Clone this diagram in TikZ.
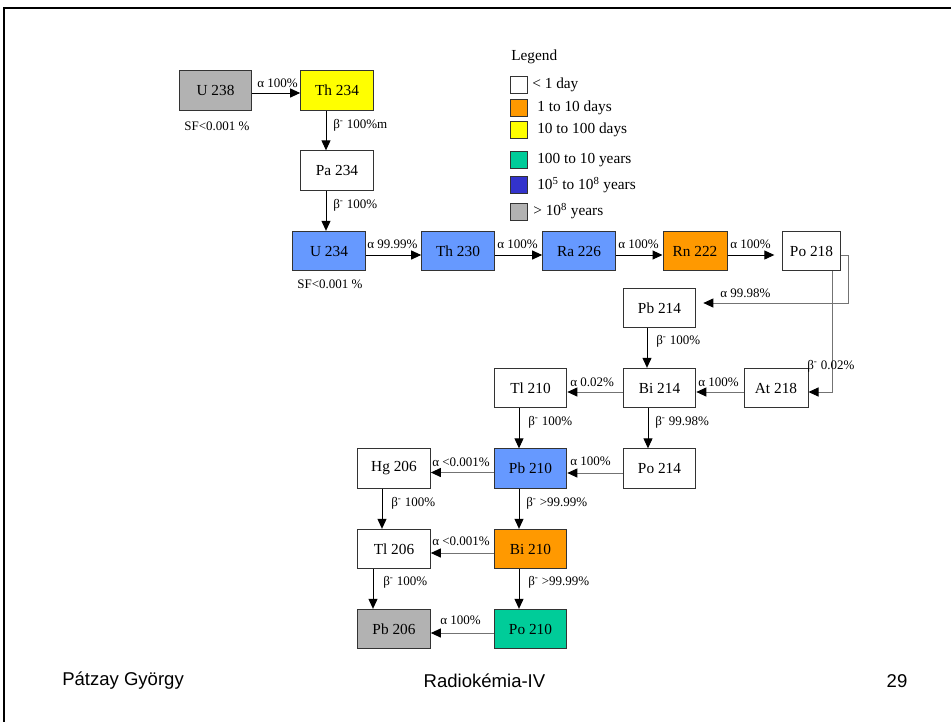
\documentclass[tikz,border=0pt]{standalone}
\usepackage{fontspec}
\setmainfont{Liberation Serif}
\newfontfamily\footfont{Liberation Sans}
\usetikzlibrary{arrows.meta,calc}
\definecolor{cblue}{HTML}{6699FF}
\definecolor{corange}{HTML}{FF9900}
\definecolor{cyellow}{HTML}{FFFF00}
\definecolor{cteal}{HTML}{00CC99}
\definecolor{cdblue}{HTML}{3333CC}
\definecolor{cgray}{HTML}{B2B2B2}
\begin{document}
\begin{tikzpicture}[x=0.75pt,y=-0.75pt,
  box/.style={draw=black!80,line width=0.75pt,minimum height=29.5pt,minimum width=54.5pt,inner sep=0pt,font=\fontsize{11.5pt}{13pt}\selectfont},
  lab/.style={anchor=west,inner sep=0pt,font=\fontsize{9.75pt}{11pt}\selectfont},
  leg/.style={anchor=west,inner sep=0pt,font=\fontsize{11.5pt}{13pt}\selectfont},
  legsq/.style={draw=black!80,line width=0.75pt,minimum width=12.75pt,minimum height=12.75pt,inner sep=0pt},
  arr/.style={line width=0.75pt,-{Triangle[length=7.5pt,width=6.75pt,color=black]}},
  garr/.style={arr,draw=black!55},
  foot/.style={inner sep=0pt,font=\footfont\fontsize{13.9pt}{16pt}\selectfont}]
\useasboundingbox (0,0) rectangle (951,722);
% frame
\draw[line width=1.9pt] (4,722) -- (4,8) -- (951,8);

% nodes
\node[box,fill=cgray] (U238) at (215.5,90.5) {U 238};
\node[box,fill=cyellow] (Th234) at (337,90.5) {Th 234};
\node[box,fill=white] (Pa234) at (337,170.5) {Pa 234};
\node[box,fill=cblue] (U234) at (329,251) {U 234};
\node[box,fill=cblue] (Th230) at (458,251) {Th 230};
\node[box,fill=cblue] (Ra226) at (579,251) {Ra 226};
\node[box,fill=corange,minimum width=48pt] (Rn222) at (695,251) {Rn 222};
\node[box,fill=white,minimum width=43pt] (Po218) at (811.5,251) {Po 218};
\node[box,fill=white] (Pb214) at (659.5,308) {Pb 214};
\node[box,fill=white] (Bi214) at (659.5,388) {Bi 214};
\node[box,fill=white,minimum width=48pt] (At218) at (776,388) {At 218};
\node[box,fill=white] (Tl210) at (530.5,388) {Tl 210};
\node[box,fill=white] (Po214) at (659.5,468.5) {Po 214};
\node[box,fill=cblue] (Pb210) at (530.5,468.5) {Pb 210};
\node[box,fill=white] (Hg206) at (394,468.5) {Hg 206};
\node[box,fill=white] (Tl206) at (394,549) {Tl 206};
\node[box,fill=corange] (Bi210) at (530.5,549) {Bi 210};
\node[box,fill=cgray] (Pb206) at (394,629) {Pb 206};
\node[box,fill=cteal] (Po210) at (530.5,629) {Po 210};

\node[lab,anchor=center] (sf1) at (217,126) {SF<0.001 \%};
\node[lab,anchor=center] (sf2) at (330,284) {SF<0.001 \%};

% connectors
\draw[arr] ($(U238.east)+(0,2.5)$) -- ($(Th234.west)+(0,2.5)$);
\draw[arr] ($(Th234.south)+(-11,0)$) -- ($(Pa234.north)+(-11,0)$);
\draw[arr] ($(Pa234.south)+(-11,0)$) -- ($(U234.north)+(-3,0)$);
\draw[arr] ($(U234.east)+(0,4)$) -- ($(Th230.west)+(0,4)$);
\draw[arr] ($(Th230.east)+(0,4)$) -- ($(Ra226.west)+(0,4)$);
\draw[arr] ($(Ra226.east)+(0,4)$) -- ($(Rn222.west)+(0,4)$);
\draw[arr] ($(Rn222.east)+(0,4)$) -- ($(Po218.west)+(-8,4)$);
\draw[garr] ($(Po218.east)+(0,4)$) -- ++(8,0) |- ($(Pb214.east)+(7,-5)$);
\draw[garr] ($(Po218.south)+(20.5,0)$) |- ($(At218.east)+(0,4)$);
\draw[arr] ($(Pb214.south)+(-12.5,0)$) -- ($(Bi214.north)+(-12.5,0)$);
\draw[garr] ($(At218.west)+(0,4)$) -- ($(Bi214.east)+(0,4)$);
\draw[garr] ($(Bi214.west)+(0,4)$) -- ($(Tl210.east)+(0,4)$);
\draw[arr] ($(Bi214.south)+(-11.5,0)$) -- ($(Po214.north)+(-11.5,0)$);
\draw[arr] ($(Tl210.south)+(-11.5,0)$) -- ($(Pb210.north)+(-11.5,0)$);
\draw[garr] ($(Po214.west)+(0,4.5)$) -- ($(Pb210.east)+(0,4.5)$);
\draw[garr] ($(Pb210.west)+(0,4)$) -- ($(Hg206.east)+(0,4)$);
\draw[arr] ($(Hg206.south)+(-12,0)$) -- ($(Tl206.north)+(-12,0)$);
\draw[arr] ($(Pb210.south)+(-11.5,0)$) -- ($(Bi210.north)+(-11.5,0)$);
\draw[garr] ($(Bi210.west)+(0,4)$) -- ($(Tl206.east)+(0,4)$);
\draw[arr] ($(Tl206.south)+(-21,0)$) -- ($(Pb206.north)+(-21,0)$);
\draw[arr] ($(Bi210.south)+(-11.5,0)$) -- ($(Po210.north)+(-11.5,0)$);
\draw[garr] ($(Po210.west)+(0,4)$) -- ($(Pb206.east)+(0,4)$);

% labels
\node[lab] (l1) at (257,83) {α 100\%};
\node[lab] (l2) at (333,125) {β\textsuperscript{-} 100\%m};
\node[lab] (l3) at (333,205) {β\textsuperscript{-} 100\%};
\node[lab] (l4) at (367,244) {α 99.99\%};
\node[lab] (l5) at (497,244) {α 100\%};
\node[lab] (l6) at (618,244) {α 100\%};
\node[lab] (l7) at (730,244) {α 100\%};
\node[lab] (l8) at (720,293) {α 99.98\%};
\node[lab] (l9) at (807,366) {β\textsuperscript{-} 0.02\%};
\node[lab] (l10) at (656,341) {β\textsuperscript{-} 100\%};
\node[lab] (l11) at (698,382) {α 100\%};
\node[lab] (l12) at (570,382) {α 0.02\%};
\node[lab] (l13) at (655,422) {β\textsuperscript{-} 99.98\%};
\node[lab] (l14) at (528,422) {β\textsuperscript{-} 100\%};
\node[lab] (l15) at (570,461) {α 100\%};
\node[lab] (l16) at (432,462) {α <0.001\%};
\node[lab] (l17) at (391,503) {β\textsuperscript{-} 100\%};
\node[lab] (l18) at (526,503) {β\textsuperscript{-} >99.99\%};
\node[lab] (l19) at (432,541) {α <0.001\%};
\node[lab] (l20) at (383,582) {β\textsuperscript{-} 100\%};
\node[lab] (l21) at (528,582) {β\textsuperscript{-} >99.99\%};
\node[lab] (l22) at (440,620) {α 100\%};

% legend
\node[leg] (legt) at (511,57) {Legend};
\node[legsq,fill=white] (s1) at (518.5,85) {};
\node[legsq,fill=corange] (s2) at (518.5,108) {};
\node[legsq,fill=cyellow] (s3) at (518.5,130) {};
\node[legsq,fill=cteal] (s4) at (518.5,160) {};
\node[legsq,fill=cdblue] (s5) at (518.5,185) {};
\node[legsq,fill=cgray] (s6) at (518.5,212) {};
\node[leg] (t1) at (532,85) {< 1 day};
\node[leg] (t2) at (537,108) {1 to 10 days};
\node[leg] (t3) at (537,130) {10 to 100 days};
\node[leg] (t4) at (537,160) {100 to 10 years};
\node[leg] (t5) at (537,185) {10\textsuperscript{5} to 10\textsuperscript{8} years};
\node[leg] (t6) at (533,211) {> 10\textsuperscript{8} years};

% footer
\node[foot,anchor=west] (f1) at (62,681) {Pátzay György};
\node[foot] (f2) at (484.5,681) {Radiokémia-IV};
\node[foot] (f3) at (897,681) {29};
\end{tikzpicture}
\end{document}
